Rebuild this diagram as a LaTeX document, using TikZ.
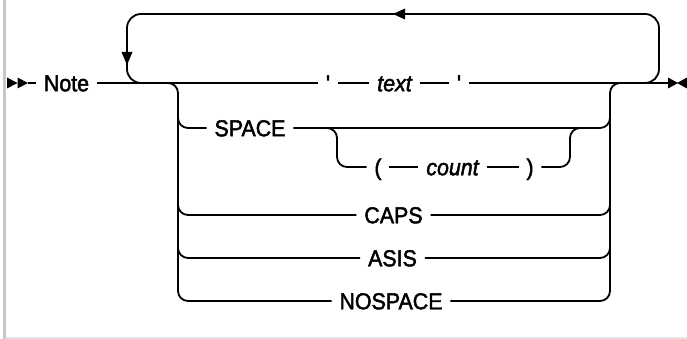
\documentclass[tikz,border=0pt]{standalone}
\usepackage{fontspec}
\newfontfamily\dfont{Liberation Sans}[FakeStretch=0.93,FakeBold=2]
\begin{document}
\begin{tikzpicture}[x=1pt,y=-1pt,line width=1.8pt,
  lbl/.style={font=\fontsize{23}{27}\selectfont\dfont,inner xsep=7pt,inner ysep=0pt,
    text height=16.5pt,text depth=0pt,anchor=center},
  var/.style={lbl,font=\fontsize{23}{27}\selectfont\dfont\itshape},
  rc/.style={rounded corners=10pt},
  loopc/.style={rounded corners=14pt},
  tipfill/.style={fill=black,draw=none}]
\useasboundingbox (0,0) rectangle (687,339);
\fill[black!22] (3,0) rectangle (6,339);
\fill[black!10] (6,337) rectangle (687,339);

% main row
\coordinate (start) at (28,83);
\coordinate (end) at (669,83);
\node[lbl] (note) at (66.5,83) {Note};
\node[lbl] (q1) at (328,83) {'};
\node[var] (txt) at (394.5,83) {text};
\node[lbl] (q2) at (459,83) {'};
\draw (start) -- (note.west);
\draw (note.east) -- (q1.west);
\draw (q1.east) -- (txt.west);
\draw (txt.east) -- (q2.west);
\draw (q2.east) -- (end);

% start / end marks
\fill[tipfill] (7,77.5) -- (17.5,83) -- (7,88.5) -- cycle;
\fill[tipfill] (17.5,77.5) -- (28,83) -- (17.5,88.5) -- cycle;
\fill[tipfill] (668,77.5) -- (678,83) -- (668,88.5) -- cycle;
\fill[tipfill] (687,77.5) -- (677,83) -- (687,88.5) -- cycle;

% repeat loop
\draw[loopc] (630,83) -- (659,83) -- (659,14) -- (127,14) -- (127,83) -- (156,83);
\fill[tipfill] (393,14) -- (405,8.5) -- (405,19.5) -- cycle;
\fill[tipfill] (127,65) -- (121.5,52) -- (132.5,52) -- cycle;

% choice rows
\node[lbl] (space) at (250,128) {SPACE};
\node[lbl] (lp) at (378,167) {(};
\node[var] (cnt) at (452.5,167) {count};
\node[lbl] (rp) at (530,167) {)};
\node[lbl] (caps) at (393.5,215) {CAPS};
\node[lbl] (asis) at (392.5,258) {ASIS};
\node[lbl] (nosp) at (391,301) {NOSPACE};

% left branch
\draw[rc] (165,83) -- (178,83) -- (178,301) -- (nosp.west);
\draw[rc] (178,118) -- (178,128) -- (space.west);
\draw[rc] (178,205) -- (178,215) -- (caps.west);
\draw[rc] (178,248) -- (178,258) -- (asis.west);

% right branch
\draw[rc] (nosp.east) -- (610,301) -- (610,83) -- (623,83);
\draw[rc] (space.east) -- (610,128) -- (610,118);
\draw[rc] (caps.east) -- (610,215) -- (610,205);
\draw[rc] (asis.east) -- (610,258) -- (610,248);

% SPACE ( count ) sub-branch
\draw[rc] (325,128) -- (337,128) -- (337,167) -- (lp.west);
\draw (lp.east) -- (cnt.west);
\draw (cnt.east) -- (rp.west);
\draw[rc] (rp.east) -- (570,167) -- (570,128) -- (582,128);
\end{tikzpicture}
\end{document}
